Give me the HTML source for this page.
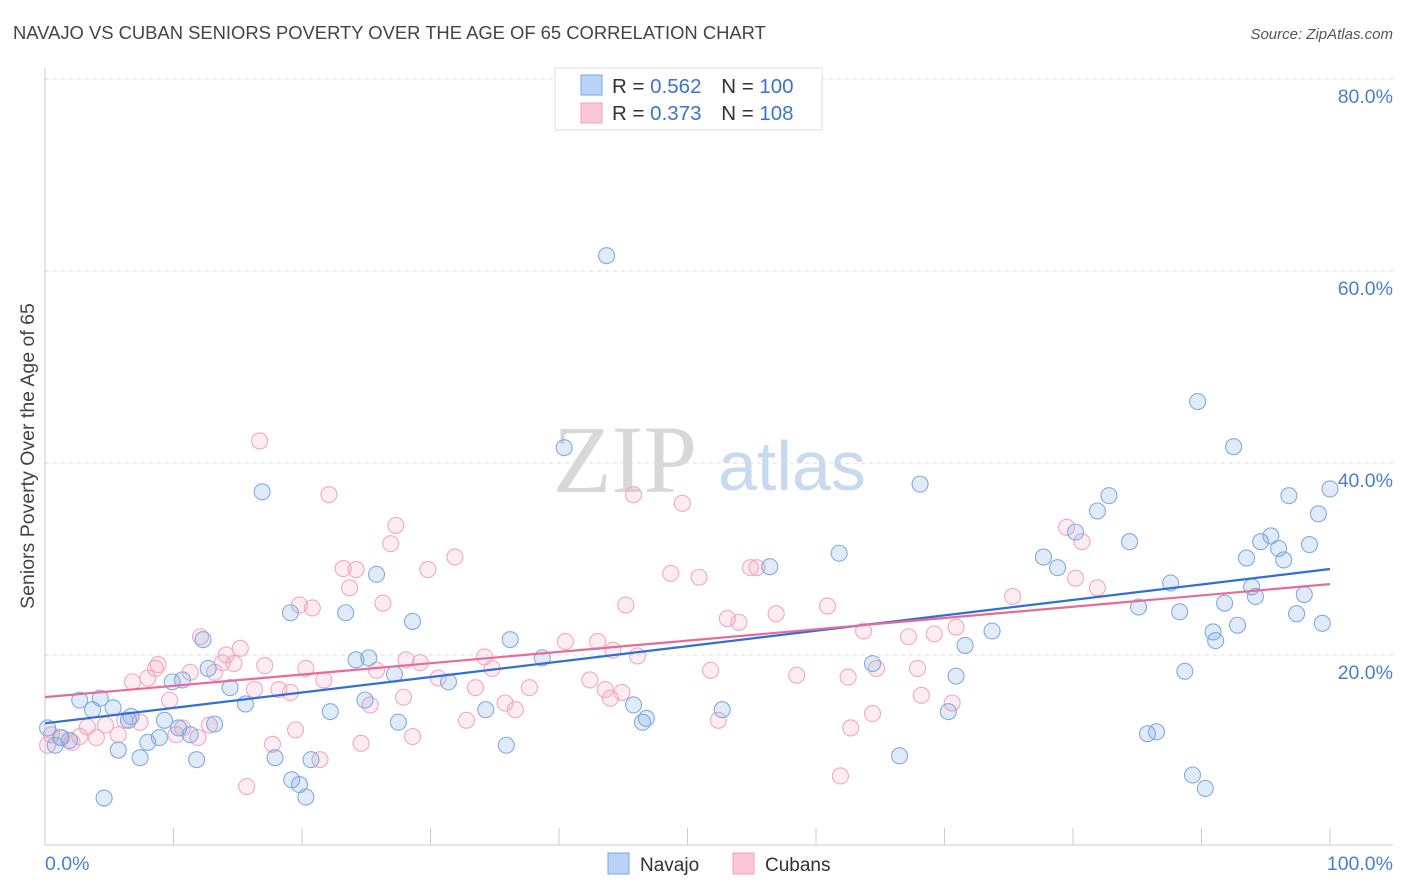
<!DOCTYPE html>
<html><head><meta charset="utf-8"><style>
body{margin:0;background:#fff;font-family:"Liberation Sans",sans-serif;}
#wrap{position:relative;width:1406px;height:892px;overflow:hidden;}
svg{position:absolute;left:0;top:0;}
</style></head><body>
<div id="wrap">
<svg id="chart" width="1406" height="892">
<text x="13" y="39" font-size="18.4" fill="#444">NAVAJO VS CUBAN SENIORS POVERTY OVER THE AGE OF 65 CORRELATION CHART</text>
<text x="1393" y="39" font-size="15" fill="#555" font-style="italic" text-anchor="end">Source: ZipAtlas.com</text>
<text transform="translate(34,456) rotate(-90)" font-size="19.5" fill="#444" text-anchor="middle">Seniors Poverty Over the Age of 65</text>
<g>
<text x="553" y="492" font-size="96" fill="#d8d8d8" font-family="Liberation Serif,serif">ZIP</text>
<text x="718" y="490" font-size="70" fill="#c8daf0">atlas</text>
</g>
<g id="grid"></g>
<g id="axes"></g>
<g id="pts"></g>
<g id="trend"></g>
<g>
<rect x="555" y="68" width="267" height="62" fill="#fff" stroke="#ddd"/>
<rect x="581" y="75" width="21" height="20" fill="#b8d3f5" stroke="#7aa7e0"/>
<rect x="581" y="103" width="21" height="20" fill="#fbc8d8" stroke="#f0a0b8"/>
<text x="612" y="93" font-size="20.5" fill="#333">R = <tspan fill="#3a74d0">0.562</tspan>   <tspan dx="14">N = </tspan><tspan fill="#3a74d0">100</tspan></text>
<text x="612" y="120" font-size="20.5" fill="#333">R = <tspan fill="#3a74d0">0.373</tspan>   <tspan dx="14">N = </tspan><tspan fill="#3a74d0">108</tspan></text>
</g>
<g>
<rect x="608" y="853" width="21" height="21" fill="#b8d3f5" stroke="#7aa7e0"/>
<text x="640" y="871" font-size="19" fill="#333">Navajo</text>
<rect x="733" y="853" width="21" height="21" fill="#fbc8d8" stroke="#f0a0b8"/>
<text x="765" y="871" font-size="19" fill="#333">Cubans</text>
</g>
</svg>
</div>
<script>
const yTicks=[20,40,60,80];
const yTickLabels=["20.0%","40.0%","60.0%","80.0%"];
const xTicks=[0,10,20,30,40,50,60,70,80,90,100];
const navajoX=[0.2,0.8,1.2,1.9,2.7,3.7,4.3,4.6,5.3,5.7,6.5,6.7,7.4,8.0,8.9,9.3,9.9,10.4,10.7,11.3,11.8,12.3,12.7,13.2,14.4,15.6,16.9,17.9,19.1,19.2,19.8,20.3,20.7,22.2,23.4,24.2,25.2,25.8,24.9,27.2,27.5,28.6,31.4,34.3,35.9,36.2,38.7,40.4,43.7,45.8,46.5,46.8,52.7,56.4,61.8,64.4,66.5,68.1,70.3,70.9,71.6,73.7,77.7,78.8,80.2,81.9,82.8,84.4,85.1,85.8,86.5,87.6,88.3,88.7,89.3,89.7,90.3,90.9,91.1,91.8,92.5,92.8,93.5,93.9,94.2,94.6,95.4,96.0,96.4,96.8,97.4,98.0,98.4,99.1,99.4,100.0];
const navajoY=[12.4,10.6,11.4,11.1,15.3,14.3,15.5,5.1,14.5,10.1,13.2,13.6,9.3,10.9,11.4,13.2,17.2,12.4,17.4,11.7,9.1,21.6,18.6,12.8,16.6,14.9,37.0,9.3,24.4,7.0,6.5,5.2,9.1,14.1,24.4,19.5,19.7,28.4,15.3,18.0,13.0,23.5,17.2,14.3,10.6,21.6,19.7,41.6,61.6,14.8,13.0,13.4,14.3,29.2,30.6,19.1,9.5,37.8,14.1,17.8,21.0,22.5,30.2,29.1,32.8,35.0,36.6,31.8,25.0,11.8,12.0,27.5,24.5,18.3,7.5,46.4,6.1,22.4,21.5,25.4,41.7,23.1,30.1,27.1,26.1,31.8,32.4,31.1,29.9,36.6,24.3,26.3,31.5,34.7,23.3,37.3];
const cubansX=[0.2,0.5,1.3,2.1,2.7,3.3,4.0,4.7,5.7,6.2,6.8,7.4,8.0,8.6,8.8,9.7,10.2,10.7,11.3,11.9,12.1,12.8,13.2,13.8,14.1,14.7,15.2,15.7,16.3,16.7,17.1,17.7,18.2,19.1,19.5,19.8,20.3,20.8,21.4,21.7,22.1,23.2,23.7,24.2,24.6,25.3,25.8,26.3,26.9,27.3,27.9,28.1,28.6,29.2,29.8,30.6,31.9,32.8,33.5,34.2,34.8,35.8,36.6,37.7,40.5,42.4,43.0,43.6,44.0,44.2,44.9,45.2,45.8,46.1,48.7,49.6,50.9,51.8,52.4,53.1,54.0,54.9,55.4,56.9,58.5,60.9,61.9,62.5,62.7,63.7,64.4,64.7,67.2,67.9,68.2,69.2,70.6,70.9,75.3,79.5,80.2,80.7,81.9];
const cubansY=[10.6,11.7,11.4,10.9,11.5,12.5,11.4,12.7,11.7,13.2,17.2,13.0,17.6,18.6,19.0,15.3,11.7,12.4,18.2,11.4,21.9,12.7,18.2,19.2,20.0,19.1,20.7,6.3,16.4,42.3,18.9,10.7,16.4,16.1,12.2,25.2,18.6,24.9,9.1,17.4,36.7,29.0,27.0,28.9,10.8,14.8,18.4,25.4,31.6,33.5,15.6,19.5,11.5,19.2,28.9,17.6,30.2,13.2,16.6,19.8,18.6,15.0,14.3,16.6,21.4,17.4,21.4,16.4,15.5,20.5,16.1,25.2,36.7,19.9,28.5,35.8,28.1,18.4,13.2,23.8,23.4,29.1,29.1,24.3,17.9,25.1,7.4,17.7,12.4,22.5,13.9,18.6,21.9,18.6,15.8,22.2,15.0,22.9,26.1,33.3,28.0,31.8,27.0];

const NS='http://www.w3.org/2000/svg';
const X0=45,X1=1330,Y0=847,YPX=9.6;
function xs(v){return X0+(X1-X0)*v/100;}
function ys(v){return Y0-v*YPX;}
function mk(tag,attrs,parent){const e=document.createElementNS(NS,tag);for(const k in attrs)e.setAttribute(k,attrs[k]);parent.appendChild(e);return e;}
const grid=document.getElementById('grid'),axes=document.getElementById('axes'),pts=document.getElementById('pts'),trend=document.getElementById('trend');
yTicks.forEach((t,i)=>{
  const l=mk('line',{x1:45,x2:1393,y1:ys(t),y2:ys(t),stroke:'#ddd','stroke-dasharray':'4,4'},grid);
  
  
  const tx=mk('text',{x:1393,y:ys(t)+24,'font-size':19.5,fill:'#4a7fd0','text-anchor':'end'},axes);
  tx.textContent=yTickLabels[i];
  
  
});
const ax=mk('line',{x1:45,x2:1393,y1:845,y2:845,stroke:'#ccc'},axes);


const ay=mk('line',{x1:45,x2:45,y1:68,y2:845,stroke:'#ccc'},axes);


xTicks.forEach(t=>{
  const l=mk('line',{x1:xs(t),x2:xs(t),y1:828,y2:845,stroke:'#ccc'},axes);
  
  
});
const xl0=mk('text',{x:45,y:870,'font-size':19.5,fill:'#4a7fd0'},axes);xl0.textContent='0.0%';


const xl1=mk('text',{x:1393,y:870,'font-size':19.5,fill:'#4a7fd0','text-anchor':'end'},axes);xl1.textContent='100.0%';



function series(X,Y,fill,stroke,name){
  X.forEach((x,i)=>{
    const c=mk('circle',{cx:xs(x),cy:ys(Y[i]),r:8,fill:fill,stroke:stroke,'stroke-width':1.1},pts);
    
    
  });
}
series(cubansX,cubansY,'rgba(245,160,185,0.2)','#f2a8c0','cubans');
series(navajoX,navajoY,'rgba(120,165,225,0.22)','#80abe2','navajo');
function fit(X,Y){const n=X.length;let sx=0,sy=0,sxx=0,sxy=0;for(let i=0;i<n;i++){sx+=X[i];sy+=Y[i];sxx+=X[i]*X[i];sxy+=X[i]*Y[i];}const b=(n*sxy-sx*sy)/(n*sxx-sx*sx);return [(sy-b*sx)/n,b];}
function tl(X,Y,color,name){const [a,b]=fit(X,Y);const l=mk('line',{x1:xs(0),y1:ys(a),x2:xs(100),y2:ys(a+100*b),stroke:color,'stroke-width':2.2},trend);

}
tl(navajoX,navajoY,'#2f6fd6','navajo-trend-line');
tl(cubansX,cubansY,'#e86a98','cubans-trend-line');
</script>
</body></html>
